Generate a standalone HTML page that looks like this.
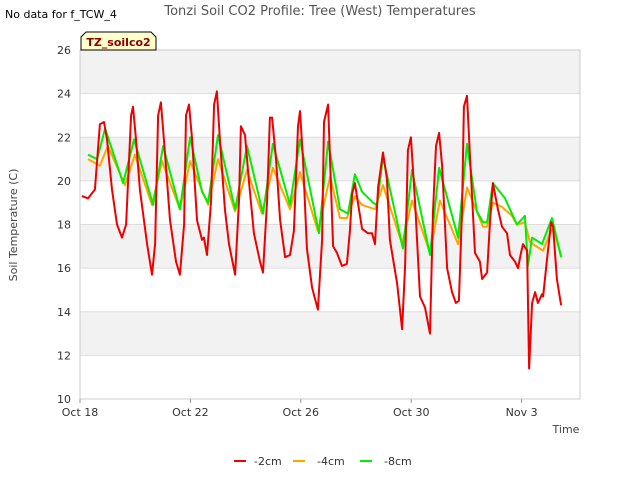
<!DOCTYPE html>
<html><head><meta charset="utf-8"><style>
body{margin:0;background:#fff;}
svg{display:block;font-family:"DejaVu Sans","Liberation Sans",sans-serif;}
</style></head><body>
<svg id="chart" width="640" height="480" viewBox="0 0 640 480">
<text x="5" y="18" font-size="11" fill="#000">No data for f_TCW_4</text>
<text x="320" y="15" font-size="13" fill="#555" text-anchor="middle">Tonzi Soil CO2 Profile: Tree (West) Temperatures</text>
<g id="bands"></g>
<g id="grid"></g>
<g id="yticks"></g>
<g id="xticks"></g>
<g id="series"></g>
<path d="M81,50 L81,37 L86,32 L151,32 L156,37 L156,50 Z" fill="#ffffcc" stroke="#000" stroke-width="1"/>
<text x="118.5" y="46" font-size="11" font-weight="bold" fill="#8b0000" text-anchor="middle">TZ_soilco2</text>
<text transform="translate(17,225) rotate(-90)" font-size="11" fill="#444" text-anchor="middle">Soil Temperature (C)</text>
<text x="566" y="433" font-size="11" fill="#444" text-anchor="middle">Time</text>
<g>
<g><line x1="234" y1="461" x2="246" y2="461" stroke="#ee0000" stroke-width="2"/><text x="254" y="465" font-size="11" fill="#333">-2cm</text></g>
<g><line x1="293" y1="461" x2="305" y2="461" stroke="#ffa500" stroke-width="2"/><text x="317" y="465" font-size="11" fill="#333">-4cm</text></g>
<g><line x1="360" y1="461" x2="372" y2="461" stroke="#00ee00" stroke-width="2"/><text x="384" y="465" font-size="11" fill="#333">-8cm</text></g>
</g>
</svg>
<script>
const xTickLabels=["Oct 18","Oct 22","Oct 26","Oct 30","Nov 3"];
const xTickDays=[0,4,8,12,16];
const yTickValues=[10,12,14,16,18,20,22,24,26];
const redDays=[0.07,0.29,0.54,0.72,0.87,0.98,1.16,1.34,1.52,1.67,1.85,1.92,2.03,2.17,2.43,2.61,2.72,2.83,2.93,3.04,3.26,3.48,3.62,3.77,3.84,3.95,4.06,4.24,4.42,4.49,4.60,4.75,4.86,4.96,5.07,5.25,5.40,5.62,5.76,5.83,5.98,6.12,6.30,6.52,6.63,6.78,6.88,6.96,7.10,7.25,7.43,7.61,7.75,7.90,7.97,8.08,8.22,8.41,8.62,8.77,8.84,8.99,9.17,9.31,9.49,9.67,9.78,9.86,9.96,10.07,10.22,10.43,10.58,10.69,10.80,10.98,11.12,11.23,11.49,11.67,11.78,11.88,11.99,12.14,12.32,12.50,12.68,12.79,12.90,13.01,13.12,13.30,13.48,13.62,13.73,13.84,13.91,14.02,14.13,14.31,14.49,14.57,14.75,14.86,14.96,15.14,15.29,15.47,15.58,15.76,15.87,15.98,16.05,16.20,16.27,16.38,16.49,16.59,16.74,16.78,16.92,17.07,17.14,17.28,17.43];
const redVals=[19.3,19.2,19.6,22.6,22.7,21.9,19.6,18.0,17.4,18.0,23.0,23.4,21.9,19.6,17.1,15.7,17.1,23.0,23.6,21.9,18.2,16.3,15.7,18.0,23.0,23.5,21.9,18.2,17.3,17.4,16.6,19.1,23.5,24.1,21.9,18.7,17.1,15.7,19.1,22.5,22.1,20.0,17.6,16.3,15.8,19.1,22.9,22.9,21.0,18.2,16.5,16.6,17.7,22.5,23.2,21.0,16.9,15.1,14.1,17.3,22.7,23.5,17.0,16.7,16.1,16.2,17.7,19.4,19.9,19.0,17.8,17.6,17.6,17.1,19.7,21.3,20.1,17.3,15.3,13.2,16.1,21.4,22.0,19.0,14.7,14.2,13.0,18.6,21.6,22.2,20.7,16.0,14.9,14.4,14.5,18.6,23.4,23.9,21.1,16.7,16.3,15.5,15.8,18.2,19.9,18.7,17.9,17.6,16.6,16.3,16.0,16.7,17.1,16.8,11.4,14.4,14.9,14.4,14.8,14.7,16.4,18.1,17.9,15.5,14.3];
const orangeDays=[0.29,0.72,1.01,1.63,1.99,2.61,2.97,3.62,3.99,4.64,5.00,5.62,6.05,6.59,6.99,7.61,7.97,8.62,9.06,9.42,9.67,9.96,10.22,10.69,10.98,11.67,12.03,12.68,13.04,13.70,14.02,14.60,14.75,14.96,15.29,15.65,15.83,16.12,16.30,16.41,16.78,17.03,17.14,17.43];
const orangeVals=[21.0,20.7,21.6,19.8,21.2,18.9,20.9,18.7,20.9,18.9,21.0,18.6,20.5,18.5,20.6,18.7,20.4,17.7,20.2,18.3,18.3,19.3,18.9,18.7,19.8,17.1,19.1,16.7,19.1,17.1,19.7,17.9,17.9,19.0,18.8,18.4,18.0,18.1,17.2,17.1,16.8,17.6,17.8,16.6];
const greenDays=[0.29,0.62,0.91,1.56,1.96,2.65,3.01,3.62,3.99,4.42,4.64,5.00,5.62,6.05,6.63,6.99,7.61,7.97,8.66,8.99,9.42,9.71,9.96,10.22,10.62,10.76,10.98,11.70,12.03,12.68,13.01,13.70,14.02,14.38,14.60,14.75,14.96,15.40,15.83,16.12,16.23,16.38,16.74,17.10,17.43];
const greenVals=[21.2,21.0,22.4,19.9,21.9,18.9,21.6,18.7,22.0,19.5,19.0,22.1,18.7,21.6,18.5,21.7,18.9,21.9,17.6,21.8,18.7,18.5,20.3,19.5,19.0,18.9,21.1,16.9,20.5,16.6,20.6,17.4,21.7,18.6,18.1,18.1,19.9,19.2,18.0,18.4,16.1,17.4,17.1,18.3,16.5];

const NS="http://www.w3.org/2000/svg";
const L=80,R=580,T=50,B=399,YMIN=10,YMAX=26,PXDAY=27.6;
function xs(d){return L+d*PXDAY;}
function ys(v){return B-(v-YMIN)/(YMAX-YMIN)*(B-T);}
function mk(tag,attrs,parent){const e=document.createElementNS(NS,tag);for(const k in attrs)e.setAttribute(k,attrs[k]);parent.appendChild(e);return e;}
const bands=document.getElementById('bands');
mk('rect',{x:L,y:T,width:R-L,height:B-T,fill:'#fff'},bands);
for(let v=YMIN;v<YMAX;v+=2){
  if(((v-YMIN)/2)%2===1){
    const r=mk('rect',{x:L,y:ys(v+2),width:R-L,height:ys(v)-ys(v+2),fill:'#f2f2f2'},bands);
    
    
  }
}
const grid=document.getElementById('grid'),yt=document.getElementById('yticks'),xt=document.getElementById('xticks');
yTickValues.forEach(v=>{
  const g=mk('line',{x1:L,x2:R,y1:ys(v),y2:ys(v),stroke:'#dddddd','stroke-width':1},grid);
  
  
  const t=mk('text',{x:L-9,y:ys(v)+4,'font-size':11,fill:'#333','text-anchor':'end'},yt);
  
  
  t.textContent=v;
});
mk('rect',{x:L,y:T,width:R-L,height:B-T,fill:'none',stroke:'#cccccc'},grid);
xTickDays.forEach((d,i)=>{
  mk('line',{x1:xs(d),x2:xs(d),y1:B,y2:B+4,stroke:'#999'},xt);
  const t=mk('text',{x:xs(d),y:B+17,'font-size':11,fill:'#333','text-anchor':'middle'},xt);
  
  
  t.textContent=xTickLabels[i];
});
const ser=document.getElementById('series');
function line(days,vals,color,name){
  const d=days.map((x,i)=>(i?'L':'M')+xs(x).toFixed(1)+','+ys(vals[i]).toFixed(1)).join(' ');
  const p=mk('path',{d:d,fill:'none',stroke:color,'stroke-width':2,'stroke-linejoin':'round'},ser);
  
  
}
line(orangeDays,orangeVals,'#ffa500','series-4cm');
line(greenDays,greenVals,'#00ee00','series-8cm');
line(redDays,redVals,'#ee0000','series-2cm');
</script>
</body></html>
